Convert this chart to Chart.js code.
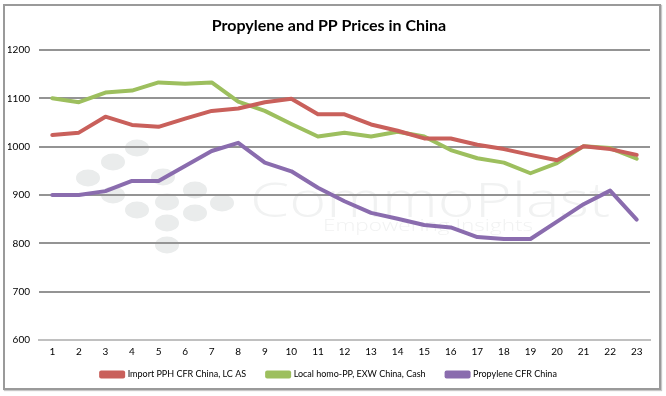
<!DOCTYPE html>
<html>
<head>
<meta charset="utf-8">
<script src="https://cdn.jsdelivr.net/npm/chart.js@4.4.1/dist/chart.umd.min.js"></script>
<style>
  html, body { margin: 0; padding: 0; background: #ffffff; }
  #wrap { position: relative; width: 666px; height: 396px; overflow: hidden; background: #fff; }
  #frame { position: absolute; left: 3px; top: 4px; width: 658px; height: 386px; border: 2px solid #9a9a9a; box-shadow: 1px 1px 1px #c8c8c8; box-sizing: border-box; }
  #c { position: absolute; left: 0; top: 0; }
</style>
</head>
<body>
<div id="wrap">
  <div id="frame"></div>
  <canvas id="c" width="666" height="396"></canvas>
</div>
<script>
const categories = ['1','2','3','4','5','6','7','8','9','10','11','12','13','14','15','16','17','18','19','20','21','22','23'];
const importPPH = [1024,1029,1062,1045,1041,1058,1074,1079,1092,1099,1067,1067,1046,1033,1017,1017,1004,995,983,972,1001,995,983];
const localHomoPP = [1100,1092,1112,1116,1133,1130,1133,1093,1074,1047,1021,1029,1021,1031,1021,993,976,967,945,966,1001,997,975];
const propylene = [900,900,908,929,929,960,991,1008,967,949,915,887,863,851,838,833,813,809,809,845,881,909,849];
const seriesNames = ['Import PPH CFR China, LC AS', 'Local homo-PP, EXW China, Cash', 'Propylene CFR China'];
const yTicks = [600,700,800,900,1000,1100,1200];

const FONT = 'Lato, "Liberation Sans", Arial, sans-serif';

const watermark = {
  id: 'watermark',
  beforeDraw(chart) {
    const ctx = chart.ctx;
    const a = chart.chartArea;
    ctx.save();
    ctx.fillStyle = '#eaecec';
    const dots = [[98,98],[74,112],[49,128],[124,127],[74,145],[98,160],[128,152],[156,140],[183,153],[156,163],[128,173],[128,195]];
    dots.forEach(d => {
      ctx.beginPath();
      ctx.ellipse(a.left + d[0], a.top + d[1], 12, 8.5, 0, 0, Math.PI * 2);
      ctx.fill();
    });
    function fitText(txt, font, x, yBase, w, color) {
      ctx.font = font;
      ctx.fillStyle = color;
      ctx.textBaseline = 'alphabetic';
      ctx.textAlign = 'left';
      const mw = ctx.measureText(txt).width;
      ctx.save();
      ctx.translate(x, yBase);
      ctx.scale(w / mw, 1);
      ctx.fillText(txt, 0, 0);
      ctx.restore();
    }
    fitText('CommoPlast', '300 48px "Open Sans", Lato, sans-serif', a.left + 211, a.top + 167, 360, '#f1f2f2');
    fitText('Empowering Insights', '300 16px "Open Sans", Lato, sans-serif', a.left + 284, a.top + 181, 210, '#f1f2f2');
    ctx.restore();
  }
};

// shifts the library legend up so its row sits where the reference draws it
const legendShift = {
  id: 'legendShift',
  afterLayout(chart) {
    const l = chart.legend;
    if (l) { l.top -= 11; l.bottom -= 11; }
  }
};

const mk = (label, data, color) => ({
  label, data,
  borderColor: color, backgroundColor: color,
  borderWidth: 4, pointRadius: 0, pointHoverRadius: 0,
  tension: 0, borderJoinStyle: 'round', borderCapStyle: 'round', fill: false
});

new Chart(document.getElementById('c'), {
  type: 'line',
  data: {
    labels: categories,
    datasets: [
      mk(seriesNames[0], importPPH, '#c9605b'),
      mk(seriesNames[1], localHomoPP, '#9dbf5e'),
      mk(seriesNames[2], propylene, '#8a6cae')
    ]
  },
  plugins: [watermark, legendShift],
  options: {
    responsive: false,
    animation: false,
    devicePixelRatio: 1,
    layout: { padding: { left: 8, right: 16, top: 4, bottom: 4 } },
    plugins: {
      title: {
        display: true,
        text: 'Propylene and PP Prices in China',
        color: '#000',
        font: { family: FONT, size: 16, weight: 'bold' },
        padding: { top: 12.4, bottom: 14.4 }
      },
      legend: {
        position: 'bottom',
        maxHeight: 32,
        labels: {
          color: '#000',
          font: { family: FONT, size: 9 },
          boxWidth: 22, boxHeight: 4,
          padding: 21
        }
      },
      tooltip: { enabled: false }
    },
    scales: {
      x: {
        offset: true,
        grid: { display: false, drawTicks: false },
        border: { display: true, color: '#c0c0c0', width: 2 },
        ticks: { color: '#000', font: { family: FONT, size: 10 }, padding: 6, maxRotation: 0, autoSkip: false },
        afterFit(s) { s.height = 20; }
      },
      y: {
        min: 600, max: 1200,
        afterBuildTicks(s) { s.ticks = yTicks.map(v => ({ value: v })); },
        grid: {
          drawTicks: false,
          color: c => (c.tick && c.tick.value === 600) ? 'rgba(0,0,0,0)' : '#949494',
          lineWidth: 2
        },
        border: { display: false },
        ticks: { color: '#000', font: { family: FONT, size: 10 }, padding: 9, callback: v => String(v) },
        afterFit(s) { s.width = 31; }
      }
    }
  }
});
</script>
</body>
</html>
